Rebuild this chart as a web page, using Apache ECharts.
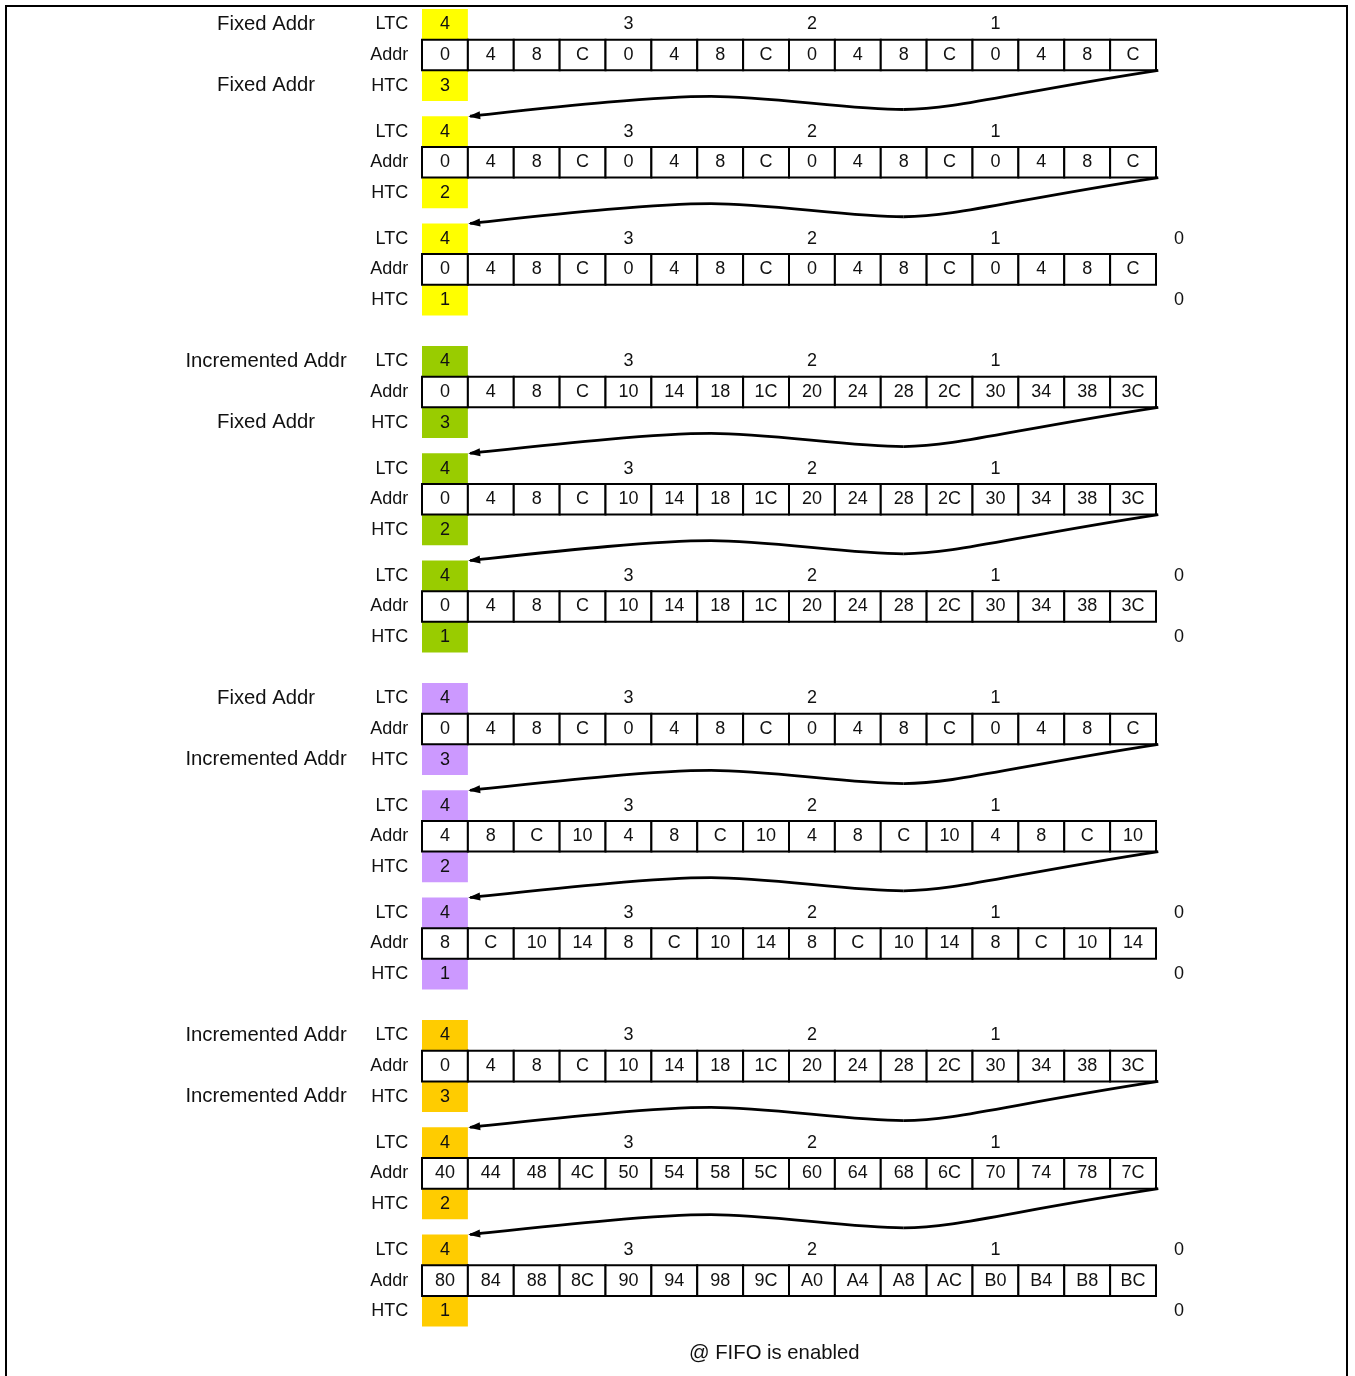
<!DOCTYPE html>
<html>
<head>
<meta charset="utf-8">
<title>FIFO address / transfer counters</title>
<script src="https://cdn.jsdelivr.net/npm/echarts@6/dist/echarts.min.js"></script>
<style>
  html, body { margin: 0; padding: 0; background: #fff; }
  #chart { width: 1355px; height: 1376px; }
</style>
</head>
<body>
<div id="chart"></div>
<script>
// address mode of LTC / HTC, one entry per group
const ltcModes = ['Fixed Addr', 'Incremented Addr', 'Fixed Addr', 'Incremented Addr'];
const htcModes = ['Fixed Addr', 'Fixed Addr', 'Incremented Addr', 'Incremented Addr'];
const rowNames = ['LTC', 'Addr', 'HTC'];
// LTC count is shown every 4 beats, HTC count once per burst
const ltcCounts = ['4', '3', '2', '1', '0'];
const htcCounts = ['3', '2', '1'];
const htcEnd = '0';

// addresses of the 16 beats, three bursts per group
const addrGroup1 = [
  ['0', '4', '8', 'C', '0', '4', '8', 'C', '0', '4', '8', 'C', '0', '4', '8', 'C'],
  ['0', '4', '8', 'C', '0', '4', '8', 'C', '0', '4', '8', 'C', '0', '4', '8', 'C'],
  ['0', '4', '8', 'C', '0', '4', '8', 'C', '0', '4', '8', 'C', '0', '4', '8', 'C']
];
const addrGroup2 = [
  ['0', '4', '8', 'C', '10', '14', '18', '1C', '20', '24', '28', '2C', '30', '34', '38', '3C'],
  ['0', '4', '8', 'C', '10', '14', '18', '1C', '20', '24', '28', '2C', '30', '34', '38', '3C'],
  ['0', '4', '8', 'C', '10', '14', '18', '1C', '20', '24', '28', '2C', '30', '34', '38', '3C']
];
const addrGroup3 = [
  ['0', '4', '8', 'C', '0', '4', '8', 'C', '0', '4', '8', 'C', '0', '4', '8', 'C'],
  ['4', '8', 'C', '10', '4', '8', 'C', '10', '4', '8', 'C', '10', '4', '8', 'C', '10'],
  ['8', 'C', '10', '14', '8', 'C', '10', '14', '8', 'C', '10', '14', '8', 'C', '10', '14']
];
const addrGroup4 = [
  ['0', '4', '8', 'C', '10', '14', '18', '1C', '20', '24', '28', '2C', '30', '34', '38', '3C'],
  ['40', '44', '48', '4C', '50', '54', '58', '5C', '60', '64', '68', '6C', '70', '74', '78', '7C'],
  ['80', '84', '88', '8C', '90', '94', '98', '9C', 'A0', 'A4', 'A8', 'AC', 'B0', 'B4', 'B8', 'BC']
];

const groupColors = ['#ffff00', '#99cc00', '#cc99ff', '#ffcc00'];
const FONT = "'Liberation Sans', Arial, sans-serif";
const TEXT_COLOR = '#111';

// layout in axis units: x = beat column, y = row
const COLS = 16;
const GROUP_STEP = 11;
const BLOCK_STEP = 3.5;

const addrGroups = [addrGroup1, addrGroup2, addrGroup3, addrGroup4];
const cells = [];
const texts = [];
const arrows = [];

addrGroups.forEach((blocks, g) => {
  blocks.forEach((addrs, b) => {
    const top = g * GROUP_STEP + b * BLOCK_STEP;
    const last = b === blocks.length - 1;
    cells.push({ x: 0, y: top, fill: groupColors[g] });
    cells.push({ x: 0, y: top + 2, fill: groupColors[g] });
    addrs.forEach((a, i) => {
      cells.push({ x: i, y: top + 1, fill: '#fff', stroke: true });
      texts.push({ x: i + 0.5, y: top + 1.5, text: a });
    });
    rowNames.forEach((n, r) => {
      texts.push({ x: -0.3, y: top + r + 0.5, text: n, align: 'right' });
    });
    const shown = last ? ltcCounts.length : ltcCounts.length - 1;
    for (let k = 0; k < shown; k++) {
      texts.push({ x: k * 4 + 0.5, y: top + 0.5, text: ltcCounts[k] });
    }
    texts.push({ x: 0.5, y: top + 2.5, text: htcCounts[b] });
    if (last) {
      texts.push({ x: COLS + 0.5, y: top + 2.5, text: htcEnd });
    } else {
      arrows.push(top);
    }
  });
  texts.push({ x: -3.4, y: g * GROUP_STEP + 0.5, text: ltcModes[g], size: 20.3 });
  texts.push({ x: -3.4, y: g * GROUP_STEP + 2.5, text: htcModes[g], size: 20.3 });
});

function renderCell(params, api) {
  const c = cells[params.dataIndex];
  const p0 = api.coord([c.x, c.y]);
  const p1 = api.coord([c.x + 1, c.y + 1]);
  return {
    type: 'rect',
    shape: { x: p0[0], y: p0[1], width: p1[0] - p0[0], height: p1[1] - p0[1] },
    style: { fill: c.fill, stroke: c.stroke ? '#000' : null, lineWidth: 2 }
  };
}

function renderText(params, api) {
  const t = texts[params.dataIndex];
  const p = api.coord([t.x, t.y]);
  return {
    type: 'text',
    x: p[0],
    y: p[1],
    style: {
      text: t.text,
      fill: TEXT_COLOR,
      font: (t.size || 18) + 'px ' + FONT,
      align: t.align || 'center',
      verticalAlign: 'middle'
    }
  };
}

// wavy arrow from the end of one burst back to the start of the next
function renderArrow(params, api) {
  const top = arrows[params.dataIndex];
  const c = (x, y) => api.coord([x, top + y]);
  const s = c(16.05, 2.0);
  const segs = [
    [c(12.8, 2.75), c(11.6, 3.28), c(10.5, 3.28)],
    [c(9.3, 3.28), c(7.6, 2.85), c(6.3, 2.85)],
    [c(5.0, 2.85), c(2.8, 3.22), c(1.05, 3.5)]
  ];
  const children = [];
  let from = s;
  segs.forEach(([cp1, cp2, to]) => {
    children.push({
      type: 'bezierCurve',
      shape: {
        x1: from[0], y1: from[1], x2: to[0], y2: to[1],
        cpx1: cp1[0], cpy1: cp1[1], cpx2: cp2[0], cpy2: cp2[1]
      },
      style: { stroke: '#000', lineWidth: 2.8, fill: 'none' }
    });
    from = to;
  });
  // arrow head
  const tip = from;
  const back = segs[2][1];
  let dx = tip[0] - back[0], dy = tip[1] - back[1];
  const len = Math.sqrt(dx * dx + dy * dy);
  dx /= len; dy /= len;
  const hl = 10, hw = 4;
  children.push({
    type: 'polygon',
    shape: {
      points: [
        [tip[0] + dx * 2, tip[1] + dy * 2],
        [tip[0] - dx * hl - dy * hw, tip[1] - dy * hl + dx * hw],
        [tip[0] - dx * hl + dy * hw, tip[1] - dy * hl - dx * hw]
      ]
    },
    style: { fill: '#000' }
  });
  return { type: 'group', children: children };
}

const chart = echarts.init(document.getElementById('chart'));
chart.setOption({
  animation: false,
  backgroundColor: '#fff',
  title: {
    text: '@ FIFO is enabled',
    left: 689,
    top: 1343,
    padding: 0,
    textStyle: { fontSize: 20.3, fontWeight: 'normal', color: TEXT_COLOR, fontFamily: FONT }
  },
  graphic: [{
    type: 'rect',
    silent: true,
    shape: { x: 6, y: 6, width: 1341, height: 1400 },
    style: { fill: 'none', stroke: '#000', lineWidth: 2 }
  }],
  grid: { left: 422, right: 199, top: 9, height: 44 * 30.64 },
  xAxis: { type: 'value', min: 0, max: COLS, show: false },
  yAxis: { type: 'value', min: 0, max: 44, inverse: true, show: false },
  series: [
    {
      type: 'custom',
      name: 'cells',
      clip: false,
      renderItem: renderCell,
      data: cells.map(c => [c.x, c.y])
    },
    {
      type: 'custom',
      name: 'arrows',
      clip: false,
      renderItem: renderArrow,
      data: arrows.map(t => [COLS, t + 2])
    },
    {
      type: 'custom',
      name: 'texts',
      clip: false,
      renderItem: renderText,
      data: texts.map(t => [t.x, t.y])
    }
  ]
});
</script>
</body>
</html>
